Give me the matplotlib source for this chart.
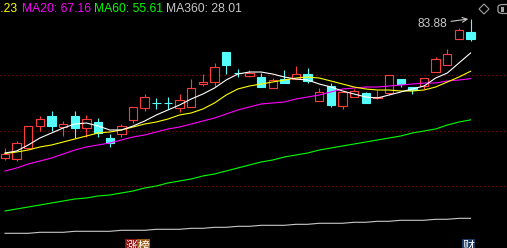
import matplotlib.pyplot as plt
from matplotlib.patches import Rectangle, FancyBboxPatch, Polygon

# K线数据 (开, 高, 低, 收)
opens = [44.92, 44.64, 47.72, 53.89, 56.70, 53.61, 56.70, 53.33, 55.01, 50.53,
         51.65, 55.57, 58.94, 60.34, 60.36, 58.94, 59.22, 65.66, 66.22, 74.63,
         68.76, 67.90, 67.62, 64.54, 67.06, 67.06, 68.46, 60.90, 65.10, 59.50,
         62.02, 63.14, 61.60, 63.14, 67.06, 64.82, 65.10, 69.02, 70.99, 78.27,
         80.24]
highs = [47.72, 49.69, 53.89, 56.70, 58.10, 55.29, 58.10, 56.98, 56.13, 51.65,
         54.45, 59.22, 62.86, 61.74, 62.02, 62.86, 67.06, 68.46, 71.55, 74.63,
         69.87, 69.59, 68.74, 67.34, 69.59, 70.71, 70.15, 64.54, 65.94, 63.42,
         64.26, 63.42, 63.98, 68.18, 67.06, 64.82, 67.34, 73.23, 75.47, 81.36,
         83.88]
lows = [44.36, 44.08, 47.72, 52.49, 52.49, 51.09, 50.53, 50.81, 50.81, 48.01,
        50.81, 54.73, 58.10, 58.66, 58.66, 57.82, 59.22, 65.10, 65.10, 68.46,
        67.62, 67.62, 64.82, 64.54, 65.94, 67.06, 65.94, 60.90, 59.22, 58.66,
        62.02, 60.34, 61.46, 62.58, 64.82, 62.86, 64.26, 69.02, 70.99, 78.27,
        77.71]
closes = [46.04, 49.13, 53.89, 55.85, 53.89, 54.45, 53.33, 55.85, 51.93, 49.13,
          53.89, 59.22, 62.02, 60.30, 60.32, 61.18, 64.54, 66.22, 70.43, 70.99,
          68.72, 68.74, 64.82, 66.78, 65.94, 68.46, 66.50, 63.42, 59.78, 63.42,
          63.70, 60.34, 62.02, 68.18, 65.66, 63.98, 67.34, 72.67, 74.07, 80.80,
          78.27]

# 均线
ma5 = [46.32, 46.88, 48.57, 50.53, 51.93, 53.33, 54.45, 54.73, 53.89, 52.77,
       52.77, 53.89, 55.29, 56.98, 58.38, 59.78, 61.46, 62.86, 64.54, 66.78,
       68.46, 69.02, 69.02, 68.46, 67.62, 67.06, 66.78, 65.66, 64.82, 63.70,
       62.86, 62.02, 61.74, 62.58, 63.42, 64.26, 65.10, 67.34, 68.74, 71.55,
       74.35]
ma10 = [46.18, 46.60, 47.16, 48.01, 48.57, 49.41, 50.25, 51.09, 51.93, 52.21,
        52.77, 53.61, 54.45, 55.01, 55.85, 56.98, 57.54, 58.66, 60.34, 62.58,
        64.26, 65.10, 65.66, 66.22, 66.78, 67.34, 67.62, 67.34, 66.50, 65.66,
        64.82, 64.26, 63.98, 63.98, 63.70, 63.70, 63.98, 64.82, 66.22, 67.62,
        69.23]
ma20 = [41.28, 42.12, 43.24, 44.08, 44.92, 46.04, 47.16, 48.01, 48.57, 49.13,
        49.97, 50.81, 51.37, 52.21, 53.05, 53.61, 54.45, 55.29, 56.13, 57.26,
        58.38, 59.22, 60.06, 60.34, 60.62, 61.46, 62.02, 62.58, 63.42, 64.26,
        64.54, 64.82, 64.82, 65.10, 65.38, 65.66, 65.94, 65.94, 66.50, 66.78,
        67.16]
ma60 = [30.07, 30.63, 31.19, 31.75, 32.31, 32.87, 33.43, 33.71, 34.27, 34.55,
        35.11, 35.67, 36.51, 37.07, 37.92, 38.48, 39.04, 39.88, 40.44, 41.28,
        42.12, 42.96, 43.80, 44.36, 45.20, 45.76, 46.32, 47.16, 47.72, 48.29,
        48.85, 49.41, 49.97, 50.53, 51.09, 51.93, 52.49, 53.05, 54.17, 55.01,
        55.61]
ma360 = [23.81, 23.81, 23.81, 24.09, 24.09, 24.09, 24.37, 24.37, 24.37, 24.37,
         24.65, 24.65, 24.65, 24.93, 24.93, 24.93, 25.21, 25.21, 25.49, 25.49,
         25.77, 25.77, 26.05, 26.05, 26.05, 26.33, 26.33, 26.62, 26.62, 26.62,
         26.90, 26.90, 27.18, 27.18, 27.46, 27.46, 27.46, 27.74, 27.74, 28.01,
         28.01]

grid_levels = [68.18, 52.49, 37.07]
legend_labels = ["MA10: 69.23", "MA20: 67.16", "MA60: 55.61", "MA360: 28.01"]
legend_colors = ["#FFFF00", "#FF00FF", "#00FF00", "#C8C8C8"]
legend_x = [17.5, 22, 94, 166]   # 像素位置

RED = "#FF3C3C"
CYAN = "#54FCFC"

fig = plt.figure(figsize=(5.07, 2.48), dpi=100, facecolor="black")
ax = fig.add_axes([0, 0, 1, 1])
ax.set_facecolor("black")
ax.set_xlim(-0.43, 43.13)
ax.set_ylim(19.69, 89.21)
ax.axis("off")

# 虚线网格
for lv in grid_levels:
    ax.axhline(lv, color="#C00000", lw=0.8, linestyle=(0, (1, 2.6)), zorder=1)

# 画K线
for i in range(len(opens)):
    o, h, l, c = opens[i], highs[i], lows[i], closes[i]
    up = c >= o
    col = RED if up else CYAN
    ax.vlines(i, l, h, color=col, lw=0.8, zorder=2)
    lo, hi = min(o, c), max(o, c)
    ax.add_patch(Rectangle((i - 0.36, lo), 0.72, max(hi - lo, 0.04),
                           fc="black" if up else col, ec=col, lw=0.8, zorder=3))

# 均线
x = range(len(ma5))
ax.plot(x, ma360, color="#C8C8C8", lw=0.8, zorder=4)
ax.plot(x, ma60, color="#00FF00", lw=0.8, zorder=4)
ax.plot(x, ma20, color="#FF00FF", lw=0.8, zorder=4)
ax.plot(x, ma10, color="#FFFF00", lw=0.8, zorder=4)
ax.plot(x, ma5, color="#FFFFFF", lw=0.8, zorder=4)

# 最高价标注
ax.annotate("83.88", xy=(39.8, 83.88), xytext=(37.97, 82.5),
            color="#C8C8C8", fontsize=8.6, family="Liberation Sans",
            ha="right", va="center",
            arrowprops=dict(arrowstyle="->", color="#C8C8C8", lw=0.8,
                            shrinkA=1, shrinkB=0))

# 顶部均线说明
W, H = 507, 248
for txt, col, px in zip(legend_labels, legend_colors, legend_x):
    fig.text(px / W, 1 - 12 / H, txt, color=col, fontsize=8.7,
             family="Liberation Sans", va="baseline",
             ha="right" if txt.startswith("MA10") else "left")

# 右上角小图标
fig.patches.append(Polygon([(484 / W, 1 - 4 / H), (489 / W, 1 - 9 / H),
                            (484 / W, 1 - 14 / H), (479 / W, 1 - 9 / H)],
                           closed=True, fill=False, ec="#A0A0A0", lw=0.8,
                           transform=fig.transFigure))
fig.patches.append(FancyBboxPatch((498 / W, 1 - 13.5 / H), 14 / W, 9 / H,
                                  boxstyle="round,pad=0,rounding_size=0.01",
                                  fill=False, ec="#A0A0A0", lw=0.9,
                                  transform=fig.transFigure))
fig.patches.append(Rectangle((500.5 / W, 1 - 11.5 / H), 3 / W, 5 / H,
                             fc="#A0A0A0", ec="none", transform=fig.transFigure))

# 底部标签
cjk = ["Noto Sans CJK SC", "DejaVu Sans"]
for txt, px, bg in [("涨", 126, "#8B1010"), ("榜", 138, "#9A5A10"), ("财", 463, "#1E3A64")]:
    fig.text(px / W, 1 - 240 / H, txt, color="white", fontsize=8.6, family=cjk,
             ha="left", va="top",
             bbox=dict(boxstyle="square,pad=0.05", fc=bg, ec="none"))

fig.savefig("out.png", dpi=100, facecolor="black")
